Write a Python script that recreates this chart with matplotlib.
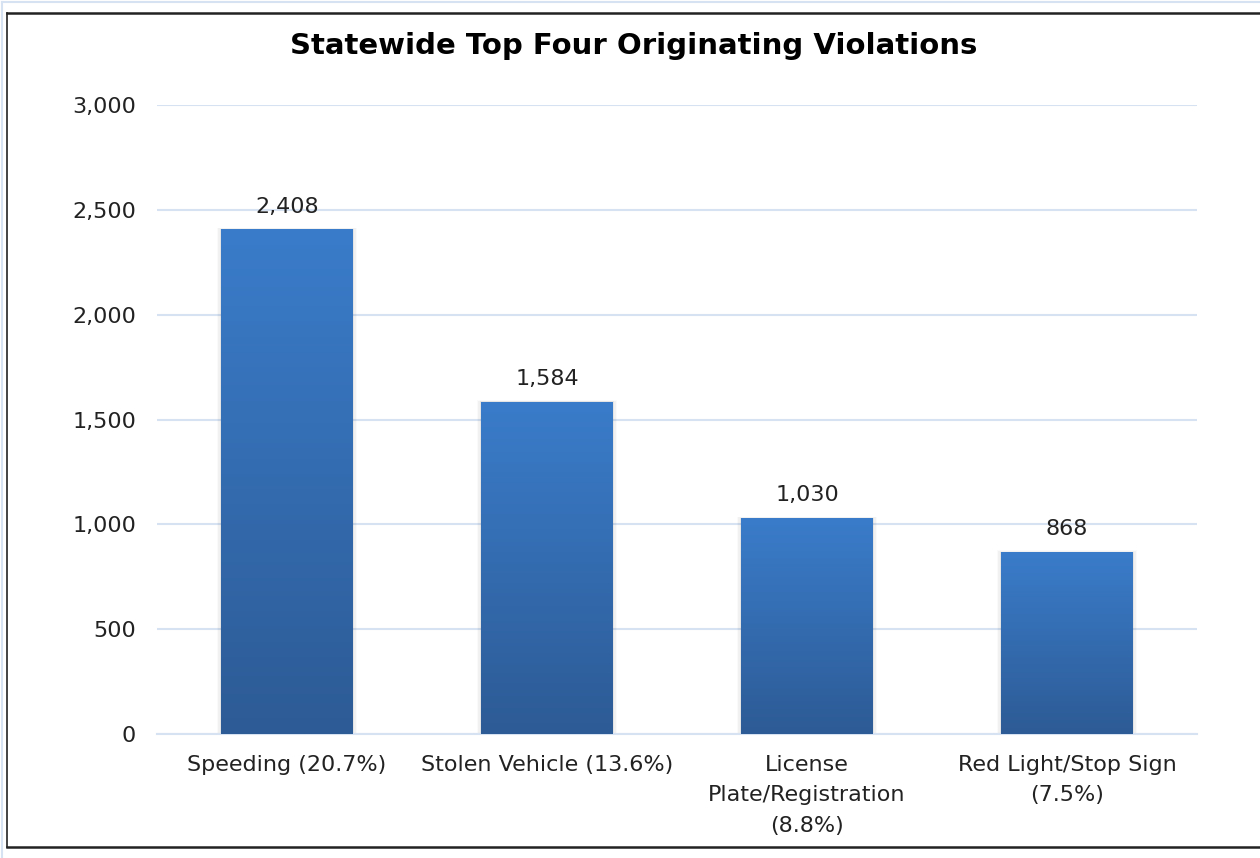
import matplotlib
matplotlib.use("Agg")
import matplotlib.pyplot as plt
import numpy as np
from matplotlib.colors import LinearSegmentedColormap
from matplotlib.patches import Rectangle
from matplotlib.lines import Line2D

categories = ["Speeding (20.7%)", "Stolen Vehicle (13.6%)", "License\nPlate/Registration\n(8.8%)", "Red Light/Stop Sign\n(7.5%)"]
values = [2408, 1584, 1030, 868]
yticks = [0, 500, 1000, 1500, 2000, 2500, 3000]
title = "Statewide Top Four Originating Violations"

plt.rcParams['font.family'] = ['DejaVu Sans']

fig = plt.figure(figsize=(12.6, 8.58), dpi=100)
ax = fig.add_axes([157/1260, 1 - 734/858, 1040/1260, 629/858])

x = np.arange(len(categories))
width = 0.505
bars = ax.bar(x, values, width=width, color='none', edgecolor='none', zorder=3)

cmap = LinearSegmentedColormap.from_list("g", ["#2D5B95", "#3A7CCA"])
grad = np.linspace(0, 1, 256).reshape(-1, 1)
for b in bars:
    x0, w, h = b.get_x(), b.get_width(), b.get_height()
    # subtle shadow
    for k, a in enumerate([0.05, 0.035, 0.02]):
        d = 0.006 * (k + 1)
        ax.add_patch(Rectangle((x0 - d, 0), w + 2 * d, h + d * 400, facecolor='black', alpha=a,
                               edgecolor='none', zorder=2))
    im = ax.imshow(grad, extent=[x0, x0 + w, 0, h], origin='lower', cmap=cmap,
                   aspect='auto', zorder=3, interpolation='bilinear')
    im.set_clip_path(b)

for xi, v in zip(x, values):
    ax.text(xi, v + 60, f"{v:,}", ha='center', va='bottom', fontsize=16, color='#222222', zorder=4)

ax.set_xlim(-0.5, len(categories) - 0.5)
ax.set_ylim(0, 3000)
ax.set_yticks(yticks)
ax.set_yticklabels([f"{t:,}" for t in yticks], fontsize=16, color='#222222')
ax.set_xticks(x)
ax.set_xticklabels(categories, fontsize=16, color='#222222', linespacing=1.65)
ax.tick_params(axis='both', length=0)
ax.tick_params(axis='y', pad=15)
ax.tick_params(axis='x', pad=15)
ax.yaxis.grid(True, color='#D6E2F2', linewidth=1.5, zorder=0)
ax.set_axisbelow(True)
for s in ['top', 'right', 'left']:
    ax.spines[s].set_visible(False)
ax.spines['bottom'].set_color('#D6E2F2')
ax.spines['bottom'].set_linewidth(1.5)

fig.text(634/1260, 1 - 46/858, title, ha='center', va='center', fontsize=21, fontweight='bold', color='black')

# outer border lines
fig.add_artist(Line2D([7/1260, 1.0], [1 - 13/858, 1 - 13/858], color='#222222', lw=1.8, transform=fig.transFigure))
fig.add_artist(Line2D([7/1260, 7/1260], [1 - 13/858, 1 - 847/858], color='#222222', lw=1.2, transform=fig.transFigure))
fig.add_artist(Line2D([7/1260, 1.0], [1 - 847/858, 1 - 847/858], color='#222222', lw=1.8, transform=fig.transFigure))
fig.add_artist(Line2D([2/1260, 1.0], [1 - 2/858, 1 - 2/858], color='#D6E2F2', lw=1.5, transform=fig.transFigure))
fig.add_artist(Line2D([2/1260, 2/1260], [1 - 2/858, 0], color='#D6E2F2', lw=1.5, transform=fig.transFigure))

fig.savefig("out.png", dpi=100)
